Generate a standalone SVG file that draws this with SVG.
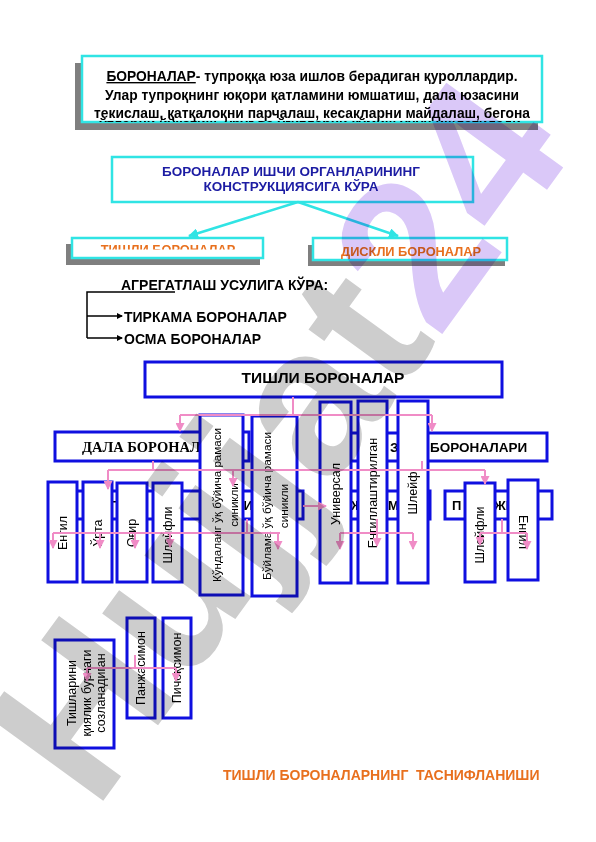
<svg xmlns="http://www.w3.org/2000/svg" width="596" height="842" viewBox="0 0 596 842">
<defs>
<style>
.s{font-family:"Liberation Sans",Arial,"DejaVu Sans",sans-serif}
.bd{font-weight:bold}
.cy{fill:#fff;stroke:#30e4e4;stroke-width:2.5}
.sh{fill:#7f7f7f}
.bx{fill:#fff;stroke:#0f0fe0;stroke-width:3}
.vt{font-family:"Liberation Sans",Arial,"DejaVu Sans",sans-serif;font-size:12.5px;fill:#000;text-anchor:middle;dominant-baseline:central}
.pk{fill:none;stroke:#f08cc6;stroke-width:2}
.pa{fill:none;stroke:#f08cc6;stroke-width:2;marker-end:url(#pah)}
.ca{fill:none;stroke:#30e4e4;stroke-width:2.5;marker-end:url(#cah)}
.ka{fill:none;stroke:#000;stroke-width:1.5}
.kar{fill:none;stroke:#000;stroke-width:1.5;marker-end:url(#kah)}
</style>
<marker id="pah" markerUnits="userSpaceOnUse" markerWidth="9" markerHeight="9" refX="8" refY="4.5" orient="auto"><path d="M0,0 L9,4.5 L0,9 z" fill="#f08cc6"/></marker>
<marker id="cah" markerUnits="userSpaceOnUse" markerWidth="10" markerHeight="10" refX="9" refY="5" orient="auto"><path d="M0,0 L10,5 L0,10 z" fill="#30e4e4"/></marker>
<marker id="kah" markerUnits="userSpaceOnUse" markerWidth="6" markerHeight="6" refX="5" refY="3" orient="auto"><path d="M0,0 L6,3 L0,6 z" fill="#000"/></marker>
<clipPath id="clipTop"><rect x="80" y="54" width="466" height="68"/></clipPath>
<clipPath id="clipTL"><rect x="70" y="236" width="196" height="13.5"/></clipPath>
</defs>
<rect width="596" height="842" fill="#fff"/>

<g id="definition">
<rect class="sh" x="75" y="63" width="463" height="67"/>
<rect class="cy" x="82" y="56" width="460" height="66"/>
<g clip-path="url(#clipTop)" class="s bd" font-size="13.8" text-anchor="middle" fill="#000">
<text x="312" y="81"><tspan text-decoration="underline">БОРОНАЛАР</tspan>- тупроққа юза ишлов берадиган қуроллардир.</text>
<text x="312" y="100">Улар тупроқнинг юқори қатламини юмшатиш, дала юзасини</text>
<text x="312" y="117.5">текислаш, қатқалоқни парчалаш, кесакларни майдалаш, бегона</text>
<text x="312" y="129">ўтларни йўқотиш, уруғ ва ўғитларни кўмиш учун ишлатилади.</text>
</g>
</g>

<g id="construction">
<rect class="cy" x="112" y="157" width="361" height="45"/>
<text class="s bd" font-size="13.5" fill="#1c1ca3" text-anchor="middle" x="291" y="176">БОРОНАЛАР ИШЧИ ОРГАНЛАРИНИНГ</text>
<text class="s bd" font-size="13.5" fill="#1c1ca3" text-anchor="middle" x="291" y="191">КОНСТРУКЦИЯСИГА КЎРА</text>
</g>

<g id="tishli-top">
<rect class="sh" x="66" y="244" width="194" height="21"/>
<rect class="cy" x="72" y="238" width="191" height="20"/>
<text clip-path="url(#clipTL)" class="s bd" font-size="12.8" fill="#e8701e" text-anchor="middle" x="168" y="253.5">ТИШЛИ БОРОНАЛАР</text>
</g>

<g id="diskli">
<rect class="sh" x="308" y="245" width="197" height="21"/>
<rect class="cy" x="313" y="238" width="194" height="22"/>
<text class="s bd" font-size="12.8" fill="#e8701e" text-anchor="middle" x="411" y="256">ДИСКЛИ БОРОНАЛАР</text>
</g>

<g id="agregat" class="s bd" font-size="14" fill="#000">
<text x="121" y="290">АГРЕГАТЛАШ УСУЛИГА КЎРА:</text>
<text x="124" y="322">ТИРКАМА БОРОНАЛАР</text>
<text x="124" y="344">ОСМА БОРОНАЛАР</text>
</g>

<g id="tishli-main">
<rect class="bx" x="145" y="362" width="357" height="35"/>
<text class="s bd" font-size="15.5" text-anchor="middle" x="323" y="383">ТИШЛИ БОРОНАЛАР</text>
</g>

<g id="dala">
<rect class="bx" x="55" y="432" width="194" height="29"/>
<text font-family="'Liberation Serif','Times New Roman',serif" font-weight="bold" font-size="14.5" x="82" y="452">ДАЛА БОРОНАЛ</text>
</g>
<g id="bog">
<rect class="bx" x="325" y="433" width="222" height="28"/>
<text class="s bd" font-size="13.5" x="390" y="452">З</text>
<text class="s bd" font-size="13.5" x="430" y="452">БОРОНАЛАРИ</text>
</g>

<g id="level3-left">
<rect class="bx" x="52" y="491" width="251" height="28"/>
<text class="s bd" font-size="13" x="110" y="510">П</text>
<text class="s bd" font-size="13" x="243.5" y="510">И</text>
</g>
<g id="level3-mid">
<rect class="bx" x="325" y="491" width="105" height="28"/>
<text class="s bd" font-size="13" x="351" y="510">Ж</text>
<text class="s bd" font-size="13" x="388" y="510">М</text>
</g>
<g id="level3-right">
<rect class="bx" x="445" y="491" width="107" height="28"/>
<text class="s bd" font-size="13" x="452" y="510">П</text>
<text class="s bd" font-size="13" x="494" y="510">ЖИ</text>
</g>

<g id="engil">
<rect class="bx" x="48" y="482" width="29" height="100"/>
<text class="vt" transform="translate(62.5,533) rotate(-90)">Енгил</text>
</g>
<g id="orta">
<rect class="bx" x="83" y="482" width="29" height="100"/>
<text class="vt" transform="translate(97.5,533) rotate(-90)">Ўрта</text>
</g>
<g id="ogir">
<rect class="bx" x="117" y="483" width="30" height="99"/>
<text class="vt" transform="translate(132,533) rotate(-90)">Оғир</text>
</g>
<g id="shleyfli-1">
<rect class="bx" x="153" y="483" width="29" height="99"/>
<text class="vt" transform="translate(167.5,535) rotate(-90)">Шлейфли</text>
</g>
<g id="kundalang">
<rect class="bx" x="200" y="415" width="43" height="180"/>
<text class="vt" transform="translate(216,505) rotate(-90)" style="font-size:11.6px"><tspan x="0" y="0">Кўндаланг ўқ бўйича рамаси</tspan><tspan x="0" y="16.5">синикли</tspan></text>
</g>
<g id="buylama">
<rect class="bx" x="252" y="416" width="45" height="180"/>
<text class="vt" transform="translate(267,506) rotate(-90)" style="font-size:11.8px"><tspan x="0" y="0">Бўйлама ўқ бўйича рамаси</tspan><tspan x="0" y="16.5">синикли</tspan></text>
</g>
<g id="universal">
<rect class="bx" x="320" y="402" width="31" height="181"/>
<text class="vt" transform="translate(336,494) rotate(-90)">Универсал</text>
</g>
<g id="engillash">
<rect class="bx" x="358" y="401" width="29" height="182"/>
<text class="vt" transform="translate(372.5,493) rotate(-90)">Енгиллаштирилган</text>
</g>
<g id="shleyf">
<rect class="bx" x="398" y="401" width="30" height="182"/>
<text class="vt" transform="translate(413,493) rotate(-90)">Шлейф</text>
</g>
<g id="shleyfli-2">
<rect class="bx" x="465" y="483" width="30" height="99"/>
<text class="vt" transform="translate(480,535) rotate(-90)">Шлейфли</text>
</g>
<g id="engil-2">
<rect class="bx" x="508" y="480" width="30" height="100"/>
<text class="vt" transform="translate(523,532) rotate(90)">Енгил</text>
</g>

<g id="qiyalik">
<rect class="bx" x="55" y="640" width="59" height="108"/>
<text class="vt" transform="translate(72,693) rotate(-90)"><tspan x="0" y="0">Тишларини</tspan><tspan x="0" y="14.5">қиялик бурчаги</tspan><tspan x="0" y="29">созланадиган</tspan></text>
</g>
<g id="panja">
<rect class="bx" x="127" y="618" width="28" height="100"/>
<text class="vt" transform="translate(141,668) rotate(-90)">Панжасимон</text>
</g>
<g id="pichoq">
<rect class="bx" x="163" y="618" width="28" height="100"/>
<text class="vt" transform="translate(177,668) rotate(-90)">Пичоқсимон</text>
</g>

<g id="title">
<text class="s bd" font-size="14" fill="#e8701e" x="223" y="780">ТИШЛИ БОРОНАЛАРНИНГ&#160; ТАСНИФЛАНИШИ</text>
</g>

<g id="connectors">
<path class="ca" d="M298,202 L189,236"/>
<path class="ca" d="M298,202 L398,236"/>
<path class="ka" d="M175,292 H87 V338"/>
<path class="kar" d="M87,316 H122"/>
<path class="kar" d="M87,338 H122"/>
<path class="pk" d="M293,397 V415 M180,415 H432"/>
<path class="pa" d="M180,415 V431"/>
<path class="pa" d="M432,415 V431"/>
<path class="pk" d="M153,461 V470 M422,461 V470 M108,470 H485"/>
<path class="pa" d="M108,470 V489"/>
<path class="pa" d="M233,470 V486"/>
<path class="pa" d="M485,470 V484"/>
<path class="pk" d="M247,519 V533 M53,533 H280"/>
<path class="pa" d="M53,533 V548"/>
<path class="pa" d="M100,533 V548"/>
<path class="pa" d="M135,533 V548"/>
<path class="pa" d="M170,533 V547"/>
<path class="pa" d="M278,533 V549"/>
<path class="pa" d="M303,506 H326"/>
<path class="pk" d="M377,519 V533 M340,533 H413"/>
<path class="pa" d="M340,533 V549"/>
<path class="pa" d="M377,533 V546"/>
<path class="pa" d="M413,533 V549"/>
<path class="pk" d="M502,519 V533 M480,533 H527"/>
<path class="pa" d="M480,533 V545"/>
<path class="pa" d="M527,533 V549"/>
<path class="pk" d="M135,655 V668 M87,668 H176"/>
<path class="pa" d="M87,668 V681"/>
<path class="pa" d="M176,668 V681"/>
</g>

<g id="watermark" style="mix-blend-mode:multiply">
<text transform="translate(95,812) rotate(-54)" font-family="'Liberation Sans',Arial,sans-serif" font-weight="bold" font-size="210"><tspan fill="#cdcdcd">Hujjat</tspan><tspan fill="#dac8f8">24</tspan></text>
</g>
</svg>
